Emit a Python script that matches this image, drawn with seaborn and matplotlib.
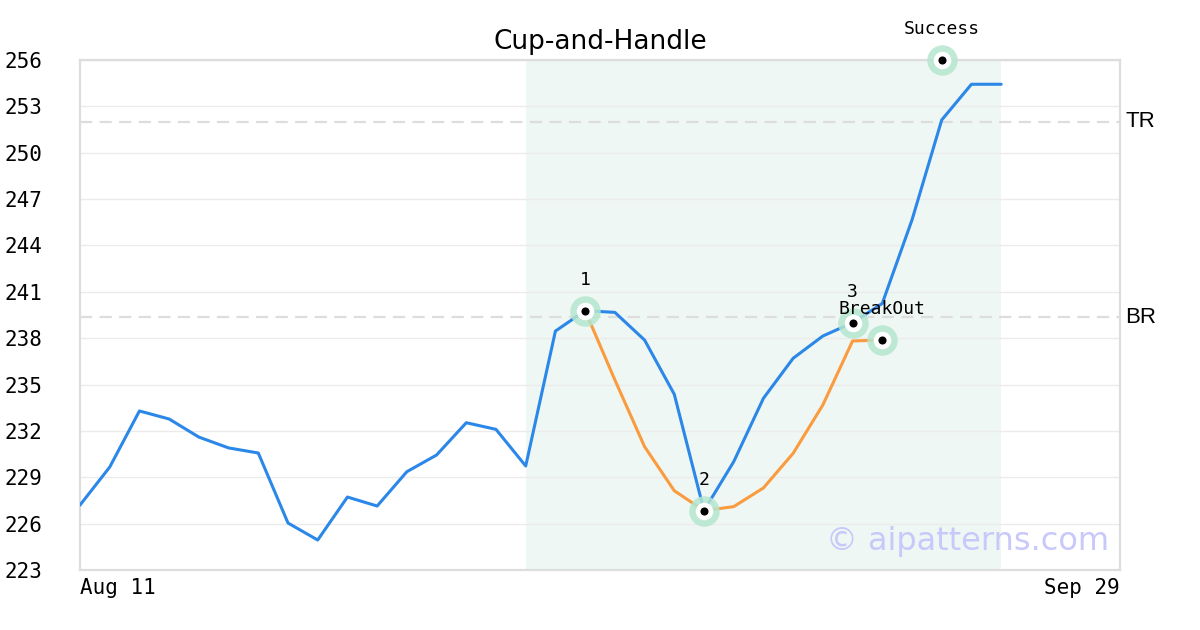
import numpy as np
import pandas as pd
import seaborn as sns
import matplotlib

matplotlib.use("Agg")
import matplotlib.pyplot as plt
import matplotlib.transforms as mtransforms

# trading-day index 0..35 spans Aug 11 .. Sep 29
x_labels = ["Aug 11", "Sep 29"]
x_label_pos = [0, 35]

price = [227.2, 229.66, 233.29, 232.77, 231.6, 230.9, 230.57, 226.04, 224.94,
         227.72, 227.14, 229.36, 230.44, 232.53, 232.1, 229.73, 238.46, 239.78,
         239.67, 237.88, 234.37, 226.84, 230.01, 234.11, 236.7, 238.14, 239.0,
         240.25, 245.65, 252.12, 254.43, 254.43]
pattern_start = 17
pattern = [239.78, 235.3, 230.98, 228.13, 226.84, 227.1, 228.31, 230.55,
           233.68, 237.82, 237.88]

point_x = [17, 21, 26, 27, 29]
point_y = [239.78, 226.84, 239.0, 237.88, 256.0]
point_text = ["1", "2", "3", "BreakOut", "Success"]

top_resistance = 252.0
breakout_level = 239.37
shade_range = [15, 31]
y_ticks = list(range(223, 257, 3))

df_price = pd.DataFrame({"idx": range(len(price)), "price": price})
df_pattern = pd.DataFrame({"idx": range(pattern_start, pattern_start + len(pattern)),
                           "price": pattern})

sns.set_style("white")
plt.rcParams["font.family"] = ["DejaVu Sans Mono", "DejaVu Sans"]
plt.rcParams["text.color"] = "black"
plt.rcParams["xtick.color"] = "black"
plt.rcParams["ytick.color"] = "black"

fig = plt.figure(figsize=(12, 6.3), dpi=100)
ax = fig.add_axes([80 / 1200, 1 - 570 / 630, 1040 / 1200, 510 / 630])

ax.axvspan(shade_range[0], shade_range[1], color="#eef7f3", zorder=0, lw=0)
for yv in y_ticks:
    ax.axhline(yv, color="#ebebeb", lw=1, zorder=1)
for lvl in [top_resistance, breakout_level]:
    ax.axhline(lvl, color="#dddddd", lw=1.6, dashes=(5.5, 3.3), zorder=1)

sns.lineplot(data=df_price, x="idx", y="price", ax=ax, color="#2b87e8",
             linewidth=2.2, zorder=3)
sns.lineplot(data=df_pattern, x="idx", y="price", ax=ax, color="#f99b3e",
             linewidth=2.2, zorder=4)

ax.scatter(point_x, point_y, s=480, color="#b5e6cf", alpha=0.85, zorder=5,
           clip_on=False, lw=0)
ax.scatter(point_x, point_y, s=160, color="white", zorder=6, clip_on=False, lw=0)
ax.scatter(point_x, point_y, s=34, color="black", zorder=7, clip_on=False, lw=0)
for px, py, t in zip(point_x, point_y, point_text):
    ax.annotate(t, (px, py), xytext=(0, 22), textcoords="offset points",
                ha="center", va="center", fontsize=13, color="black",
                family="DejaVu Sans Mono", zorder=8, annotation_clip=False)

trans = mtransforms.blended_transform_factory(ax.transAxes, ax.transData)
for lvl, name in [(top_resistance, "TR"), (breakout_level, "BR")]:
    ax.text(1 + 5 / 1040, lvl, name, transform=trans, ha="left", va="center",
            fontsize=16, family="Liberation Sans", color="black")

ax.text(0.99, 0.055, "\u00a9 aipatterns.com", transform=ax.transAxes,
        ha="right", va="center", fontsize=23, family="DejaVu Sans",
        color="#c8c8fa", zorder=2)

ax.set_xlim(0, 35)
ax.set_ylim(223, 256)
ax.set_yticks(y_ticks)
ax.set_yticklabels([str(v) for v in y_ticks], fontsize=15)
ax.set_xticks(x_label_pos)
ax.set_xticklabels(x_labels, fontsize=15)
xt = ax.get_xticklabels()
xt[0].set_ha("left")
xt[1].set_ha("right")
ax.tick_params(axis="y", length=0, pad=27)
ax.tick_params(axis="x", length=0, pad=6)
ax.set_xlabel("")
ax.set_ylabel("")
for sp in ax.spines.values():
    sp.set_color("#dddddd")
    sp.set_linewidth(1.6)

ax.set_title("Cup-and-Handle", fontsize=19, family="DejaVu Sans", pad=8,
             color="black")

fig.savefig("out.png", dpi=100)
plt.close(fig)
